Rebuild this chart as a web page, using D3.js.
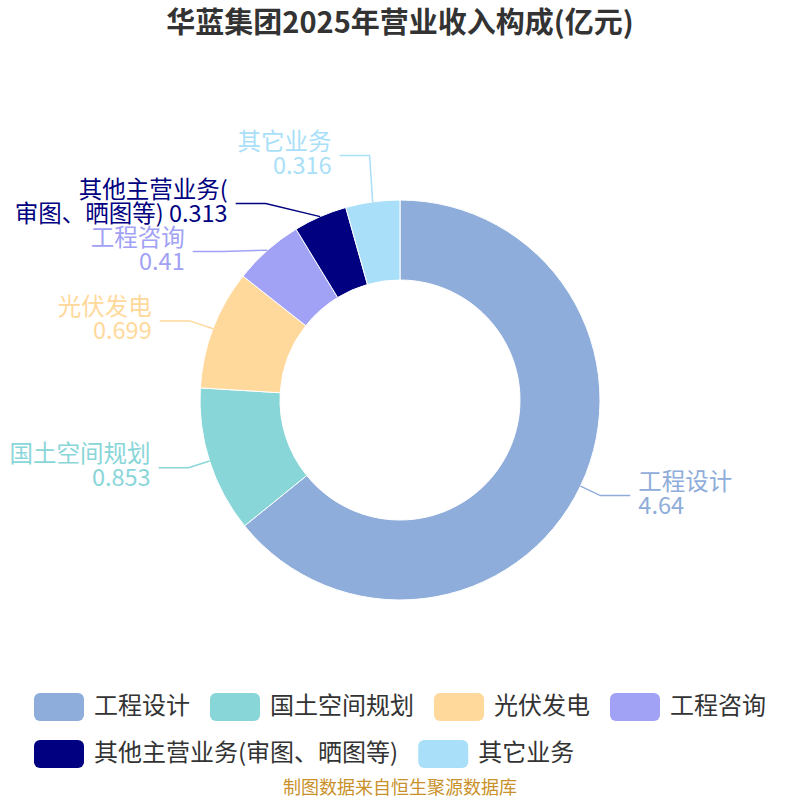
<!DOCTYPE html>
<html>
<head>
<meta charset="utf-8">
<script src="https://cdn.jsdelivr.net/npm/d3@7"></script>
<style>
  body { margin: 0; background: #fff; }
  text { font-family: "Noto Sans CJK SC", "Noto Sans", sans-serif; }
</style>
</head>
<body>
<svg class="chart" width="800" height="800"></svg>
<script>
var categories = ["工程设计", "国土空间规划", "光伏发电", "工程咨询", "其他主营业务(审图、晒图等)", "其它业务"];
var values = [4.64, 0.853, 0.699, 0.41, 0.313, 0.316];
var colors = ["#8fadda", "#89d6d9", "#ffd99b", "#a1a1f5", "#000080", "#a9dff9"];

var width = 800, height = 800;
var cx = 400, cy = 400;
var outerR = 200, innerR = 120;
var len1 = 22, len2 = 30, lineH = 24;

var svg = d3.select(".chart");

svg.append("text")
    .attr("x", width / 2)
    .attr("y", 25)
    .attr("text-anchor", "middle")
    .attr("dominant-baseline", "middle")
    .style("font-size", "29px")
    .style("font-weight", "bold")
    .style("fill", "#333")
    .text("华蓝集团2025年营业收入构成(亿元)");

var data = categories.map(function(c, i) { return {name: c, value: values[i], color: colors[i]}; });

var pie = d3.pie().sort(null).value(function(d) { return d.value; });
var arcs = pie(data);
var arc = d3.arc().innerRadius(innerR).outerRadius(outerR);

var g = svg.append("g").attr("transform", "translate(" + cx + "," + cy + ")");
g.selectAll(".slice")
    .data(arcs)
  .enter().append("path")
    .attr("class", "slice")
    .attr("d", arc)
    .attr("fill", function(d) { return d.data.color; })
    .attr("stroke", "#fff")
    .attr("stroke-width", 1);

// label positions
var labels = arcs.map(function(d) {
  var mid = (d.startAngle + d.endAngle) / 2;
  var s = Math.sin(mid), c = Math.cos(mid);
  return {
    d: d,
    dir: s >= 0 ? 1 : -1,
    sx: cx + outerR * s, sy: cy - outerR * c,
    ex: cx + (outerR + len1) * s, ey: cy - (outerR + len1) * c,
    y0: cy - (outerR + len1) * c
  };
});

function spread(items) {
  items.sort(function(a, b) { return a.y0 - b.y0; });
  var clusters = [];
  items.forEach(function(it) {
    var cl = {items: [it]};
    place(cl);
    clusters.push(cl);
    while (clusters.length > 1) {
      var prev = clusters[clusters.length - 2], cur = clusters[clusters.length - 1];
      var last = prev.items[prev.items.length - 1];
      if (last.ey + lineH * 2 > cur.items[0].ey) {
        prev.items = prev.items.concat(cur.items);
        clusters.pop();
        place(prev);
      } else break;
    }
  });
  function place(cl) {
    var mean = d3.mean(cl.items, function(t) { return t.y0; });
    var n = cl.items.length;
    cl.items.forEach(function(t, i) { t.ey = mean + (i - (n - 1) / 2) * lineH * 2; });
  }
  // recalc x on ellipse per semicircle
  var rA = outerR + len1;
  [true, false].forEach(function(top) {
    var semi = items.filter(function(t) { return (t.ey < cy) === top; });
    var rB = rA;
    semi.forEach(function(t) {
      var dx = t.ex - cx, dy = t.ey - cy;
      if (Math.abs(dx) < rA) rB = Math.max(rB, Math.sqrt(dy * dy / (1 - dx * dx / (rA * rA))));
    });
    semi.forEach(function(t) {
      var dy = t.ey - cy;
      var ndx = Math.sqrt(Math.max(0, 1 - dy * dy / (rB * rB)) * rA * rA);
      t.ex = cx + ndx * t.dir;
    });
  });
}
spread(labels.filter(function(t) { return t.dir > 0; }));
spread(labels.filter(function(t) { return t.dir < 0; }));

var lab = svg.append("g");
labels.forEach(function(t) {
  var color = t.d.data.color;
  var endX = t.ex + len2 * t.dir;
  lab.append("polyline")
      .attr("points", [[t.sx, t.sy], [t.ex, t.ey], [endX, t.ey]].join(" "))
      .attr("fill", "none")
      .attr("stroke", color)
      .attr("stroke-width", 1.5);
  var name = t.d.data.name, val = String(t.d.data.value);
  var lines;
  var k = name.indexOf("(");
  if (name.length > 8 && k >= 0) lines = [name.slice(0, k + 1), name.slice(k + 1) + " " + val];
  else lines = [name, val];
  var txt = lab.append("text")
      .attr("x", endX + 8 * t.dir)
      .attr("y", t.ey)
      .attr("text-anchor", t.dir > 0 ? "start" : "end")
      .style("font-size", "23.5px")
      .style("fill", color);
  lines.forEach(function(l, i) {
    txt.append("tspan")
        .attr("x", endX + 8 * t.dir)
        .attr("y", t.ey + (i - (lines.length - 1) / 2) * lineH)
        .attr("dominant-baseline", "middle")
        .text(l);
  });
});

// legend
var legend = svg.append("g");
var items = data.map(function(d) {
  var it = legend.append("g");
  it.append("rect")
      .attr("width", 50).attr("height", 28)
      .attr("rx", 6).attr("ry", 6)
      .attr("fill", d.color);
  var tx = it.append("text")
      .attr("x", 60).attr("y", 14)
      .attr("dominant-baseline", "middle")
      .style("font-size", "24px")
      .style("fill", "#333")
      .text(d.name);
  return {g: it, w: 60 + tx.node().getComputedTextLength()};
});
var gap = 20, maxW = 760, rows = [[]], rowW = [0];
items.forEach(function(it) {
  var r = rows.length - 1;
  var w = rowW[r] + (rows[r].length ? gap : 0) + it.w;
  if (rows[r].length && w > maxW) {
    rows.push([it]); rowW.push(it.w);
  } else {
    rows[r].push(it); rowW[r] = w;
  }
});
var blockW = d3.max(rowW);
var left = (width - blockW) / 2;
rows.forEach(function(row, ri) {
  var x = left;
  row.forEach(function(it) {
    it.g.attr("transform", "translate(" + x + "," + (693 + ri * 47) + ")");
    x += it.w + gap;
  });
});

svg.append("text")
    .attr("x", width / 2)
    .attr("y", 789)
    .attr("text-anchor", "middle")
    .attr("dominant-baseline", "middle")
    .style("font-size", "18px")
    .style("fill", "#c9912a")
    .text("制图数据来自恒生聚源数据库");
</script>
</body>
</html>
